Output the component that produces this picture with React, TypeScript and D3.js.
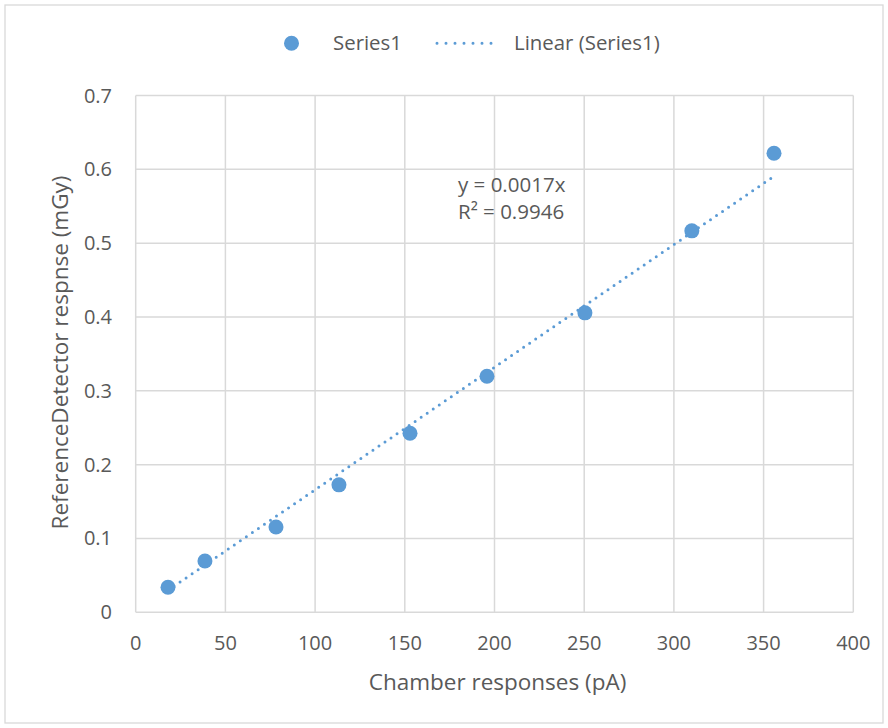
import React from "react";
import * as d3 from "d3";

const chamberX = [18, 38.6, 78.2, 113.3, 152.9, 195.8, 250.4, 310, 355.8];
const detectorY = [0.034, 0.0695, 0.1156, 0.1726, 0.2426, 0.3198, 0.4056, 0.5167, 0.6217];
const xTicks = [0, 50, 100, 150, 200, 250, 300, 350, 400];
const yTicks = [0, 0.1, 0.2, 0.3, 0.4, 0.5, 0.6, 0.7];
const slope = [0.00166];
const equationLines = ["y = 0.0017x", "R² = 0.9946"];

const W = 888, H = 728;
const FONT = "'Open Sans', 'Liberation Sans', sans-serif";
const BLUE = "#5B9BD5";
const GRID = "#D9D9D9";
const TXT = "#595959";

export default function App() {
  const x = d3.scaleLinear().domain([0, 400]).range([135.7, 853.3]);
  const y = d3.scaleLinear().domain([0, 0.7]).range([612.3, 95.5]);
  const xMin = d3.min(chamberX)!;
  const xMax = d3.max(chamberX)!;
  const line = d3.line<number>().x(d => x(d)).y(d => y(slope[0] * d));
  return (
    <svg width={W} height={H} style={{ position: "absolute", left: 0, top: 0 }} fontFamily={FONT}>
      <rect x={0} y={0} width={W} height={H} fill="#fff" />
      <rect x={5} y={5} width={878} height={718} fill="#fff" stroke={GRID} strokeWidth={1.3} />
      {xTicks.map(t => (
        <line key={"gx" + t} x1={x(t)} x2={x(t)} y1={y(0)} y2={y(0.7)} stroke={GRID} strokeWidth={1.5} />
      ))}
      {yTicks.map(t => (
        <line key={"gy" + t} x1={x(0)} x2={x(400)} y1={y(t)} y2={y(t)} stroke={GRID} strokeWidth={1.5} />
      ))}
      {xTicks.map(t => (
        <text key={"tx" + t} x={x(t)} y={650} textAnchor="middle" fontSize={20} fill={TXT}>{t}</text>
      ))}
      {yTicks.map(t => (
        <text key={"ty" + t} x={112} y={y(t) + 7} textAnchor="end" fontSize={20} fill={TXT}>{t === 0 ? "0" : t.toFixed(1)}</text>
      ))}
      <path d={line([xMin, xMax]) || ""} fill="none" stroke={BLUE} strokeWidth={3} strokeDasharray="0 7.3" strokeLinecap="round" />
      {chamberX.map((cx, i) => (
        <circle key={"p" + i} cx={x(cx)} cy={y(detectorY[i])} r={7.5} fill={BLUE} />
      ))}
      {equationLines.map((s, i) => (
        <text key={"eq" + i} x={458} y={192 + i * 26.5} fontSize={20.5} fill={TXT}>{s}</text>
      ))}
      <text x={497.5} y={690} textAnchor="middle" fontSize={22.5} fill={TXT}>Chamber responses (pA)</text>
      <text transform={`translate(67.5,352.5) rotate(-90)`} textAnchor="middle" fontSize={22.5} fill={TXT}>ReferenceDetector respnse (mGy)</text>
      <circle cx={291.5} cy={43.3} r={7.5} fill={BLUE} />
      <text x={333} y={50.3} fontSize={20.4} fill={TXT}>Series1</text>
      <line x1={437} x2={500} y1={43.3} y2={43.3} stroke={BLUE} strokeWidth={3} strokeDasharray="0 9" strokeLinecap="round" />
      <text x={514} y={50.3} fontSize={20.4} fill={TXT}>Linear (Series1)</text>
    </svg>
  );
}
